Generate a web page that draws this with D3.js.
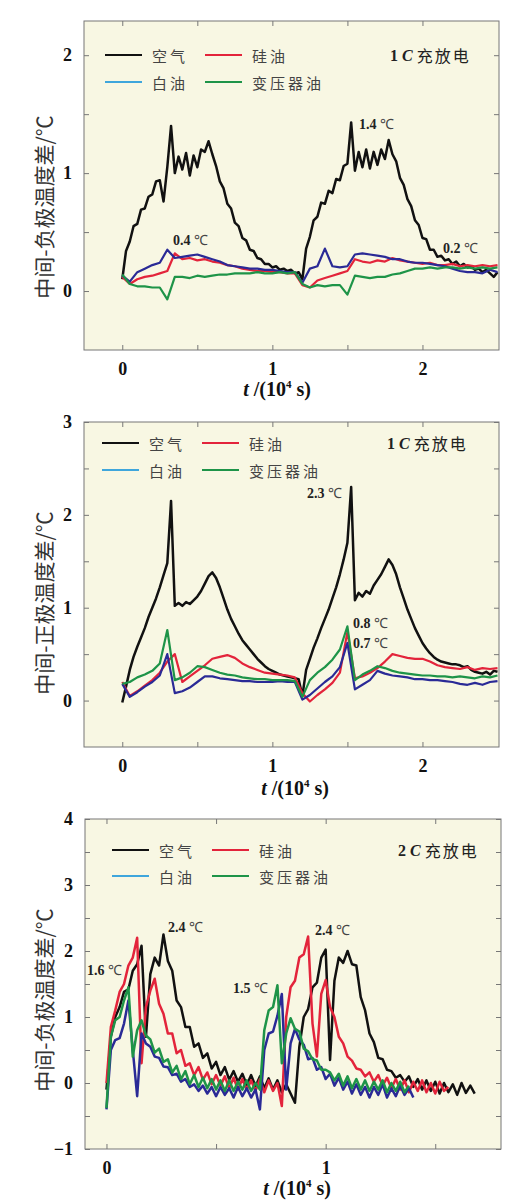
<!DOCTYPE html>
<html>
<head>
<meta charset="UTF-8">
<title></title>
<script src="https://d3js.org/d3.v7.min.js"></script>
<style>
  body { margin: 0; background: #fff; }
</style>
</head>
<body>
<div id="svg"></div>
<script>
// 图例名称
const seriesNames = ['空气', '硅油', '白油', '变压器油']

// 上图 1C 负极: 空气 每0.025取点, 其它 每0.05取点
const p1Air = [
  .10, .34, .42, .55, .57, .69, .70, .80, .82, .93, .94, .76, 1.05, 1.40, 1.00, 1.14, 1.03, 1.17, .98, 1.15,
  1.05, 1.20, 1.18, 1.27, 1.16, 1.06, .93, .87, .74, .70, .58, .55, .45, .43, .35, .34, .28, .27, .23, .23,
  .20, .21, .18, .19, .17, .18, .15, .16, .10, .36, .46, .60, .63, .75, .74, .85, .83, .95, .94, 1.06,
  1.08, 1.43, 1.02, 1.18, 1.05, 1.20, 1.04, 1.18, 1.07, 1.20, 1.12, 1.28, 1.16, 1.10, .96, .90, .78, .72, .60, .56,
  .45, .44, .35, .35, .29, .30, .26, .27, .23, .25, .21, .23, .20, .21, .18, .19, .16, .18, .15, .12, .16
]
const p1Silicone = [
  .12, .06, .10, .12, .13, .15, .17, .32, .27, .28, .26, .27, .25, .24, .22, .21, .19, .18, .17, .17,
  .16, .16, .15, .15, .05, .03, .09, .11, .13, .15, .17, .27, .25, .24, .26, .25, .28, .26, .25, .24,
  .23, .24, .22, .22, .23, .21, .22, .21, .22, .21, .22
]
const p1White = [
  .13, .08, .16, .19, .22, .24, .35, .28, .29, .30, .31, .29, .27, .25, .22, .21, .20, .19, .19, .18,
  .18, .17, .16, .16, .07, .19, .21, .36, .21, .20, .21, .31, .32, .31, .30, .29, .27, .27, .25, .24,
  .24, .23, .22, .21, .19, .17, .16, .16, .15, .18, .16
]
const p1Transformer = [
  .14, .06, .04, .04, .03, .03, -.07, .12, .12, .11, .13, .12, .13, .14, .14, .15, .15, .15, .16, .15,
  .15, .16, .15, .16, .06, .03, .05, .04, .05, .05, -.03, .13, .12, .11, .12, .12, .14, .15, .17, .19,
  .19, .20, .19, .20, .20, .19, .20, .19, .20, .19, .20
]

// 中图 1C 正极
const p2Air = [
  -.02, .15, .33, .47, .58, .68, .78, .90, 1.00, 1.10, 1.22, 1.35, 1.48, 2.15, 1.02, 1.05, 1.02, 1.06, 1.04, 1.08,
  1.12, 1.18, 1.26, 1.34, 1.38, 1.32, 1.22, 1.10, .98, .88, .80, .72, .65, .60, .55, .50, .45, .41, .37, .34,
  .32, .30, .28, .27, .26, .25, .24, .23, .05, .33, .45, .57, .67, .78, .88, .98, 1.10, 1.22, 1.36, 1.52,
  1.70, 2.30, 1.08, 1.16, 1.12, 1.18, 1.15, 1.24, 1.30, 1.36, 1.44, 1.52, 1.46, 1.36, 1.22, 1.10, .98, .88, .78, .70,
  .62, .56, .51, .47, .44, .42, .41, .40, .39, .39, .38, .36, .37, .33, .31, .30, .29, .31, .28, .32, .31
]
const p2Silicone = [
  .20, .05, .10, .16, .22, .30, .42, .50, .20, .26, .32, .38, .45, .47, .49, .46, .40, .36, .33, .30,
  .29, .28, .27, .25, .08, -.01, .06, .12, .19, .30, .74, .24, .26, .30, .35, .42, .50, .48, .46, .45,
  .45, .42, .38, .36, .35, .34, .36, .33, .35, .34, .35
]
const p2White = [
  .18, .04, .09, .15, .20, .27, .50, .08, .10, .14, .20, .26, .26, .24, .23, .22, .21, .21, .20, .20,
  .20, .21, .20, .20, .01, .06, .13, .20, .26, .36, .62, .12, .17, .22, .32, .29, .27, .26, .25, .23,
  .23, .22, .22, .21, .20, .18, .17, .19, .17, .20, .21
]
const p2Transformer = [
  .18, .20, .25, .28, .32, .40, .76, .22, .25, .30, .37, .36, .33, .30, .28, .27, .25, .24, .23, .23,
  .22, .22, .22, .21, .04, .22, .30, .36, .44, .55, .80, .22, .28, .32, .37, .35, .32, .30, .29, .28,
  .27, .27, .26, .26, .25, .26, .25, .24, .26, .25, .27
]

// 下图 2C 负极, 每0.02取点
const p3Air = [
  -.10, .70, 1.00, 1.15, 1.38, 1.42, 1.70, 1.80, 2.08, .70, 1.65, 1.90, 1.78, 2.25, 1.85, 1.70, 1.25, 1.15, .85, .85,
  .55, .60, .38, .45, .22, .32, .12, .24, .05, .18, .02, .14, -.03, .12, -.05, .10, -.08, .07, -.10, .04,
  -.14, -.02, -.16, -.30, .55, 1.00, 1.12, 1.45, 1.52, 1.90, 2.02, .35, 1.55, 1.90, 1.82, 2.00, 1.80, 1.78, 1.30, 1.10,
  .75, .62, .38, .36, .20, .18, .08, .12, .02, .10, -.06, .06, -.10, .04, -.12, .02, -.16, .00, -.14, -.02,
  -.18, .00, -.15, -.04, -.16
]
const p3Silicone = [
  .00, .85, 1.10, 1.38, 1.50, 1.78, 1.90, 2.20, .30, 1.15, 1.40, 1.58, 1.20, 1.05, .75, .75, .45, .50, .26, .30,
  .12, .24, .05, .16, -.02, .12, -.04, .10, -.08, .08, -.10, .06, -.10, .04, -.12, .06, -.14, .04, -.12, .00,
  -.35, 1.00, 1.45, 1.55, 1.90, 1.95, 2.22, .90, .40, 1.35, 1.56, 1.15, 1.00, .70, .60, .40, .34, .22, .20, .10,
  .16, .02, .12, -.04, .08, -.08, .06, -.10, .04, -.14, .02, -.12, .04, -.14, .00, -.16, .02, -.12, -.06
]
const p3White = [
  -.40, .50, .65, .68, .90, 1.25, .50, -.20, .75, .60, .55, .40, .38, .25, .24, .12, .14, .02, .06, -.06,
  -.02, -.12, -.04, -.16, -.06, -.20, -.06, -.18, -.08, -.22, -.06, -.20, -.08, -.22, -.10, -.40, .50, .75, .78, 1.02,
  1.35, -.10, .60, .82, .66, .58, .36, .38, .20, .24, .06, .14, -.04, .08, -.10, .02, -.16, -.02, -.18, -.06,
  -.22, -.06, -.18, -.02, -.22, -.08, -.20, -.04, -.18, -.08, -.22
]
const p3Transformer = [
  -.38, .70, .95, 1.00, 1.25, 1.45, .40, .80, .95, .72, .66, .46, .52, .32, .36, .16, .26, .06, .18, -.02,
  .12, -.06, .08, -.08, .06, -.10, .04, -.12, .04, -.12, .02, -.10, .04, -.12, .00, -.10, .80, 1.10, 1.15, 1.48,
  .30, .75, .98, .82, .78, .52, .48, .36, .34, .20, .20, .16, .04, .14, -.04, .10, -.08, .06, -.10, .04,
  -.12, .02, -.10, .04, -.14, .00, -.12, .02, -.14, -.04
]

// 刻度
const tickX12 = [0, .5, 1, 1.5, 2]
const tickY1 = [0, .5, 1, 1.5, 2]
const tickY2 = [0, .5, 1, 1.5, 2, 2.5, 3]
const tickX3 = [0, .5, 1, 1.5]
const tickY3 = [-1, -.5, 0, .5, 1, 1.5, 2, 2.5, 3, 3.5, 4]

const colors = { air: '#111', silicone: '#e3243b', white: '#2a2a96', transformer: '#1e9448' }
const legendColors = ['#111', '#e3243b', '#3fa6dc', '#1e9448']

const svg = d3.select('#svg').append('svg').attr('width', 523).attr('height', 1204)

const panels = [
  {
    box: [84, 499, 21, 350], xd: [-0.255, 2.51], yd: [-0.5, 2.29], xt: tickX12, yt: tickY1,
    ytitle: '中间-负极温度差/℃', ytitleY: 207, xtitleX: 277, xtitleY: 396,
    legY: [55, 82], legX: [105, 205], rate: '1', rateX: 390,
    series: [
      [p1Air, 0.025, colors.air, 2.5], [p1Silicone, 0.05, colors.silicone, 2.2],
      [p1White, 0.05, colors.white, 2.2], [p1Transformer, 0.05, colors.transformer, 2.2]
    ],
    notes: [['0.4', 173, 245], ['1.4', 359, 129], ['0.2', 443, 253]]
  },
  {
    box: [84, 499, 422, 747], xd: [-0.255, 2.51], yd: [-0.5, 3.0], xt: tickX12, yt: tickY2,
    ytitle: '中间-正极温度差/℃', ytitleY: 603, xtitleX: 295, xtitleY: 795,
    legY: [443, 470], legX: [102, 202], rate: '1', rateX: 387,
    series: [
      [p2Air, 0.025, colors.air, 2.5], [p2Silicone, 0.05, colors.silicone, 2.2],
      [p2White, 0.05, colors.white, 2.2], [p2Transformer, 0.05, colors.transformer, 2.2]
    ],
    notes: [['2.3', 307, 498], ['0.8', 353, 628], ['0.7', 353, 648]]
  },
  {
    box: [85, 501, 819, 1149], xd: [-0.098, 1.8], yd: [-1, 4], xt: tickX3, yt: tickY3,
    ytitle: '中间-负极温度差/℃', ytitleY: 1000, xtitleX: 297, xtitleY: 1195,
    legY: [850, 876], legX: [112, 212], rate: '2', rateX: 398,
    series: [
      [p3Air, 0.02, colors.air, 2.5], [p3Silicone, 0.02, colors.silicone, 2.5],
      [p3White, 0.02, colors.white, 2.5], [p3Transformer, 0.02, colors.transformer, 2.5]
    ],
    notes: [['2.4', 168, 932], ['1.6', 87, 975], ['1.5', 233, 993], ['2.4', 315, 935]]
  }
]

const serif = '"Liberation Serif", "Times New Roman", serif'
const cjk = '"Noto Sans CJK SC", sans-serif'
const fmt = d => Number.isInteger(d) ? (d < 0 ? '\u2212' + Math.abs(d) : d) : ''

panels.forEach((p, pi) => {
  const [l, r, t, b] = p.box
  const x = d3.scaleLinear().domain(p.xd).range([l, r])
  const y = d3.scaleLinear().domain(p.yd).range([b, t])
  const g = svg.append('g')

  g.append('rect').attr('x', l).attr('y', t).attr('width', r - l).attr('height', b - t).attr('fill', '#f8f7e3')

  const clipId = 'clip' + pi
  g.append('clipPath').attr('id', clipId).append('rect')
    .attr('x', l).attr('y', t).attr('width', r - l).attr('height', b - t)

  // 曲线
  const line = d3.line().x(d => x(d[0])).y(d => y(d[1]))
  p.series.forEach(([vals, dt, col, sw]) => {
    const pts = vals.map((v, i) => [i * dt, v])
    g.append('path').datum(pts).attr('d', line).attr('fill', 'none')
      .attr('stroke', col).attr('stroke-width', sw).attr('stroke-linejoin', 'round')
      .attr('clip-path', `url(#${clipId})`)
  })

  // 坐标轴 (刻度朝内)
  const axes = [
    [d3.axisBottom(x).tickValues(p.xt).tickFormat(fmt), `translate(0,${b})`],
    [d3.axisTop(x).tickValues(p.xt).tickFormat(''), `translate(0,${t})`],
    [d3.axisLeft(y).tickValues(p.yt).tickFormat(fmt), `translate(${l},0)`],
    [d3.axisRight(y).tickValues(p.yt).tickFormat(''), `translate(${r},0)`]
  ]
  axes.forEach(([ax, tr]) => {
    const a = g.append('g').attr('transform', tr)
      .call(ax.tickSizeInner(-5).tickSizeOuter(0).tickPadding(12))
    a.select('.domain').remove()
    a.selectAll('line').attr('stroke', '#777')
    a.selectAll('text').attr('font-family', serif).attr('font-weight', 'bold')
      .attr('font-size', 18).attr('fill', '#111')
  })

  g.append('rect').attr('x', l).attr('y', t).attr('width', r - l).attr('height', b - t)
    .attr('fill', 'none').attr('stroke', '#777').attr('stroke-width', 1)

  // y轴标题
  g.append('text').attr('transform', `translate(43,${p.ytitleY}) rotate(-90)`)
    .attr('text-anchor', 'middle').attr('dominant-baseline', 'central')
    .attr('font-family', cjk).attr('font-size', 21).attr('fill', '#333')
    .text(p.ytitle)

  // x轴标题
  const xt = g.append('text').attr('x', p.xtitleX).attr('y', p.xtitleY).attr('text-anchor', 'middle')
    .attr('font-family', serif).attr('font-weight', 'bold').attr('font-size', 20).attr('fill', '#111')
  xt.append('tspan').attr('font-style', 'italic').text('t')
  xt.append('tspan').text(' /(10')
  xt.append('tspan').attr('font-size', 11).attr('dy', -8).text('4')
  xt.append('tspan').attr('dy', 8).text(' s)')

  // 图例
  seriesNames.forEach((name, i) => {
    const lx = p.legX[i % 2], ly = p.legY[Math.floor(i / 2)]
    g.append('line').attr('x1', lx).attr('x2', lx + 37).attr('y1', ly).attr('y2', ly)
      .attr('stroke', legendColors[i]).attr('stroke-width', 2)
    g.append('text').attr('x', lx + 47).attr('y', ly).attr('dominant-baseline', 'central')
      .attr('font-family', cjk).attr('font-size', 15).attr('letter-spacing', 3).attr('fill', '#444')
      .text(name)
  })

  // 充放电倍率
  const rt = g.append('text').attr('x', p.rateX).attr('y', p.legY[0]).attr('dominant-baseline', 'central')
    .attr('font-size', 16).attr('fill', '#222')
  rt.append('tspan').attr('font-family', serif).attr('font-weight', 'bold').text(p.rate + ' ')
  rt.append('tspan').attr('font-family', serif).attr('font-weight', 'bold').attr('font-style', 'italic').text('C ')
  rt.append('tspan').attr('font-family', cjk).attr('letter-spacing', 2).text('充放电')

  // 标注
  p.notes.forEach(([v, nx, ny]) => {
    const nt = g.append('text').attr('x', nx).attr('y', ny).attr('font-size', 14).attr('fill', '#222')
    nt.append('tspan').attr('font-family', serif).attr('font-weight', 'bold').text(v + ' ')
    nt.append('tspan').attr('font-family', serif).attr('fill', '#444').text('℃')
  })
})
</script>
</body>
</html>
